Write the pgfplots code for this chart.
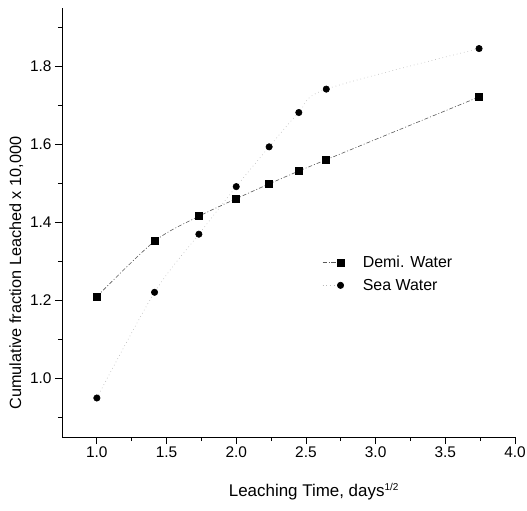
\documentclass[border=0pt]{standalone}
\usepackage{pgfplots}
\pgfplotsset{compat=1.18}
\usepackage{fontspec}
\setmainfont{Liberation Sans}
\begin{document}
\begin{tikzpicture}
\begin{axis}[
  name=ax,
  scale only axis,
  width=453bp, height=429bp,
  xmin=0.75, xmax=4.0,
  ymin=0.85, ymax=1.95,
  axis x line*=bottom, axis y line*=left,
  axis line style={-, line width=0.9pt},
  tick align=outside,
  major tick length=7bp, minor tick length=4bp,
  tick style={line width=0.8pt, black},
  xtick={1.0,1.5,2.0,2.5,3.0,3.5,4.0},
  minor xtick={1.25,1.75,2.25,2.75,3.25,3.75},
  ytick={1.0,1.2,1.4,1.6,1.8},
  minor ytick={0.9,1.1,1.3,1.5,1.7,1.9},
  /pgf/number format/assume math mode=true,
  /pgf/number format/.cd, fixed, fixed zerofill, precision=1, /pgfplots/.cd,
  ticklabel style={font=\fontsize{15.5}{18}\selectfont},
  xticklabel style={yshift=1bp},
  xlabel={Leaching Time, days\textsuperscript{\fontsize{10}{11}\selectfont 1/2}},
  ylabel={Cumulative fraction Leached x 10,000},
  xlabel style={font=\fontsize{17}{19}\selectfont, at={(ticklabel cs:0.556)}, yshift=-19bp},
  ylabel style={font=\fontsize{16.3}{19}\selectfont, at={(ticklabel cs:0.382)}},
  legend style={draw=none, fill=none, at={(rel axis cs:0.574,0.427)}, anchor=north west,
    font=\fontsize{16}{18}\selectfont, row sep=6bp, inner sep=0pt},
  legend cell align=left,
  legend image code/.code={
    \draw[#1, mark repeat=2, mark phase=2] plot coordinates {(0bp,0bp) (18bp,0bp)};
    \path (38bp,0bp);
  },
]
\coordinate (SW) at (rel axis cs:0,0);
\coordinate (NE) at (rel axis cs:1,1);
\addplot[smooth, color=gray!70!black, line width=0.6pt,
  dash pattern=on 4pt off 2pt on 1pt off 2pt,
  mark=square*, mark size=3.5pt, mark options={solid, fill=black, draw=black}]
  coordinates {(1.0,1.21) (1.414,1.352) (1.732,1.416) (2.0,1.461) (2.236,1.499) (2.449,1.532) (2.646,1.561) (3.742,1.722)};
\addlegendentry{Demi. Water}
\addplot[smooth, color=gray!55, line width=0.6pt,
  dash pattern=on 0.7pt off 3pt,
  mark=*, mark size=3.2pt, mark options={solid, fill=black, draw=black}]
  coordinates {(1.0,0.95) (1.414,1.221) (1.732,1.37) (2.0,1.492) (2.236,1.594) (2.449,1.682) (2.646,1.742) (3.742,1.846)};
\addlegendentry{Sea Water}
\end{axis}
\pgfresetboundingbox
\path ([shift={(-62bp,-74bp)}]SW) rectangle ([shift={(12bp,8bp)}]NE);
\end{tikzpicture}
\end{document}
